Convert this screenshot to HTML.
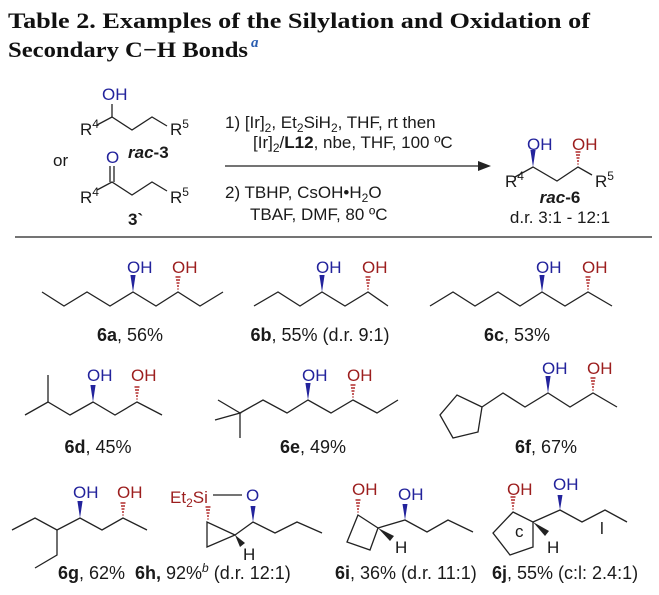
<!DOCTYPE html>
<html><head><meta charset="utf-8"><style>
html,body{margin:0;padding:0;background:#fff}
svg{display:block}
text{font-family:"Liberation Sans",Arial,sans-serif;font-size:17px;fill:#1a1a1a}
.b{fill:#23239c}.r{fill:#9c1e1e}
.t{font-family:"Liberation Serif",serif;font-weight:bold;font-size:22px;fill:#111}
.l{font-size:18px}
line,polyline,polygon.s{stroke:#222;stroke-width:1.3;fill:none}
</style></head><body>
<svg width="659" height="595" viewBox="0 0 659 595" xmlns="http://www.w3.org/2000/svg">
<defs>
<path id="h" d="M-0.6,-3h1.2M-1,-6h2M-1.5,-9h3M-2,-12h4M-2.5,-15h5" stroke="#b02a2a" stroke-width="1.4" fill="none"/>
<polygon id="w" points="0,0 -2.6,-17 2.6,-17" fill="#23239c"/>
</defs>
<text class="t" x="8" y="28" textLength="582" lengthAdjust="spacingAndGlyphs">Table 2. Examples of the Silylation and Oxidation of</text>
<text class="t" x="8" y="57" textLength="240" lengthAdjust="spacingAndGlyphs">Secondary C−H Bonds</text>
<text x="251" y="47" style="font-family:'Liberation Serif',serif;font-style:italic;font-weight:bold;font-size:15px;fill:#2a5db0">a</text>

<!-- rac-3 -->
<text class="b" x="102" y="100">OH</text>
<line x1="112" y1="117" x2="112" y2="104"/>
<polyline points="97,125 112,117 132,130 152,117 167,126"/>
<text x="80" y="135">R<tspan dy="-7" font-size="12">4</tspan></text>
<text x="170" y="135">R<tspan dy="-7" font-size="12">5</tspan></text>
<text x="128" y="158" font-weight="bold" font-style="italic">rac<tspan font-style="normal">-3</tspan></text>
<text x="53" y="166">or</text>
<text class="b" x="106" y="163">O</text>
<line x1="110" y1="166" x2="110" y2="182"/><line x1="114" y1="166" x2="114" y2="182"/>
<polyline points="97,190 112,182 132,195 152,182 167,191"/>
<text x="80" y="203">R<tspan dy="-7" font-size="12">4</tspan></text>
<text x="170" y="203">R<tspan dy="-7" font-size="12">5</tspan></text>
<text x="128" y="225" font-weight="bold">3`</text>

<!-- conditions -->
<text x="225" y="128">1) [Ir]<tspan font-size="12" dy="4">2</tspan><tspan dy="-4">, Et</tspan><tspan font-size="12" dy="4">2</tspan><tspan dy="-4">SiH</tspan><tspan font-size="12" dy="4">2</tspan><tspan dy="-4">, THF, rt then</tspan></text>
<text x="253" y="148">[Ir]<tspan font-size="12" dy="4">2</tspan><tspan dy="-4">/</tspan><tspan font-weight="bold">L12</tspan>, nbe, THF, 100 ºC</text>
<line x1="225" y1="166" x2="482" y2="166" stroke-width="1.5"/>
<polygon points="491,166 478,161 478,171" fill="#222"/>
<text x="225" y="198">2) TBHP, CsOH•H<tspan font-size="12" dy="4">2</tspan><tspan dy="-4">O</tspan></text>
<text x="250" y="220">TBAF, DMF, 80 ºC</text>

<!-- rac-6 -->
<text class="b" x="527" y="150">OH</text>
<text class="r" x="572" y="150">OH</text>
<polyline points="515,177 533,167 557,181 578,167 592,175"/>
<use href="#w" x="533" y="167"/><use href="#h" x="578" y="167"/>
<text x="505" y="187">R<tspan dy="-7" font-size="12">4</tspan></text>
<text x="595" y="187">R<tspan dy="-7" font-size="12">5</tspan></text>
<text x="560" y="203" text-anchor="middle" font-weight="bold" font-style="italic">rac<tspan font-style="normal">-6</tspan></text>
<text x="560" y="223" text-anchor="middle">d.r. 3:1 - 12:1</text>
<line x1="15" y1="237" x2="652" y2="237" stroke-width="1.6"/>

<!-- row 1 -->
<polyline points="42,292 64,306 87,292 110,306 133,292 156,306 178,292 200,306 223,292"/>
<use href="#w" x="133" y="292"/><use href="#h" x="178" y="292"/>
<text class="b" x="127" y="273">OH</text><text class="r" x="172" y="273">OH</text>
<text class="l" x="130" y="341" text-anchor="middle"><tspan font-weight="bold">6a</tspan>, 56%</text>

<polyline points="254,306 278,292 300,306 322,292 345,306 368,292 388,306"/>
<use href="#w" x="322" y="292"/><use href="#h" x="368" y="292"/>
<text class="b" x="316" y="273">OH</text><text class="r" x="362" y="273">OH</text>
<text class="l" x="320" y="341" text-anchor="middle"><tspan font-weight="bold">6b</tspan>, 55% (d.r. 9:1)</text>

<polyline points="430,306 453,292 475,306 498,292 520,306 542,292 565,306 588,292 612,306"/>
<use href="#w" x="542" y="292"/><use href="#h" x="588" y="292"/>
<text class="b" x="536" y="273">OH</text><text class="r" x="582" y="273">OH</text>
<text class="l" x="517" y="341" text-anchor="middle"><tspan font-weight="bold">6c</tspan>, 53%</text>

<!-- row 2 -->
<line x1="48" y1="375" x2="48" y2="402"/>
<polyline points="25,415 48,402 70,415 93,402 115,415 137,402 162,415"/>
<use href="#w" x="93" y="402"/><use href="#h" x="137" y="402"/>
<text class="b" x="87" y="381">OH</text><text class="r" x="131" y="381">OH</text>
<text class="l" x="98" y="453" text-anchor="middle"><tspan font-weight="bold">6d</tspan>, 45%</text>

<polyline points="218,400 240,413 215,420"/>
<line x1="240" y1="413" x2="240" y2="438"/>
<polyline points="240,413 263,400 287,413 308,400 331,413 353,400 377,413 398,400"/>
<use href="#w" x="308" y="400"/><use href="#h" x="353" y="400"/>
<text class="b" x="302" y="381">OH</text><text class="r" x="347" y="381">OH</text>
<text class="l" x="313" y="453" text-anchor="middle"><tspan font-weight="bold">6e</tspan>, 49%</text>

<polygon class="s" points="482,407 457,395 440,415 453,438 478,432"/>
<polyline points="482,407 503,393 525,407 548,393 570,407 593,393 617,407"/>
<use href="#w" x="548" y="393"/><use href="#h" x="593" y="393"/>
<text class="b" x="542" y="374">OH</text><text class="r" x="587" y="374">OH</text>
<text class="l" x="546" y="453" text-anchor="middle"><tspan font-weight="bold">6f</tspan>, 67%</text>

<!-- row 3 -->
<polyline points="12,530 35,518 57,530 80,518 102,530 123,518 147,530"/>
<polyline points="57,530 57,555 35,568"/>
<use href="#w" x="80" y="518"/><use href="#h" x="123" y="518"/>
<text class="b" x="73" y="498">OH</text><text class="r" x="117" y="498">OH</text>
<text class="l" x="58" y="579"><tspan font-weight="bold">6g</tspan>, 62%</text>

<text class="r" x="170" y="503">Et<tspan font-size="12" dy="4">2</tspan><tspan dy="-4">Si</tspan></text>
<line x1="213" y1="495" x2="242" y2="495" stroke-width="1"/>
<text class="b" x="246" y="501">O</text>
<use href="#h" x="208" y="522"/>
<polygon class="s" points="207,522 207,547 235,535"/>
<polygon points="235,535 240,547 245,543" fill="#222"/>
<text x="243" y="560">H</text>
<polyline points="235,535 253,522 275,533 297,522 322,533"/>
<polygon points="253,522 250.5,506 255.5,506" fill="#23239c"/>
<text class="l" x="135" y="579"><tspan font-weight="bold">6h,</tspan> 92%<tspan font-style="italic" font-size="12" dy="-7">b</tspan><tspan dy="7"> (d.r. 12:1)</tspan></text>

<text class="r" x="352" y="495">OH</text>
<use href="#h" x="358" y="515"/>
<polygon class="s" points="358,515 378,528 370,550 347,542"/>
<polygon points="378,528 390,541 394,536" fill="#222"/>
<text x="395" y="553">H</text>
<polyline points="378,528 405,520 427,532 448,520 473,532"/>
<polygon points="405,520 402.5,504 407.5,504" fill="#23239c"/>
<text class="b" x="398" y="500">OH</text>
<text class="l" x="335" y="579"><tspan font-weight="bold">6i</tspan>, 36% (d.r. 11:1)</text>

<text class="r" x="507" y="495">OH</text>
<use href="#h" x="513" y="512"/>
<polygon class="s" points="513,512 533,522 533,547 510,555 493,533"/>
<text x="515" y="537" font-size="15">c</text>
<polygon points="533,522 545,536 549,531" fill="#222"/>
<text x="547" y="553">H</text>
<polyline points="533,522 560,510 582,522 605,510 627,522"/>
<polygon points="560,510 557.5,495 562.5,495" fill="#23239c"/>
<text class="b" x="553" y="490">OH</text>
<text x="600" y="534" font-size="16">l</text>
<text class="l" x="492" y="579"><tspan font-weight="bold">6j</tspan>, 55% (c:l: 2.4:1)</text>
</svg>
</body></html>
